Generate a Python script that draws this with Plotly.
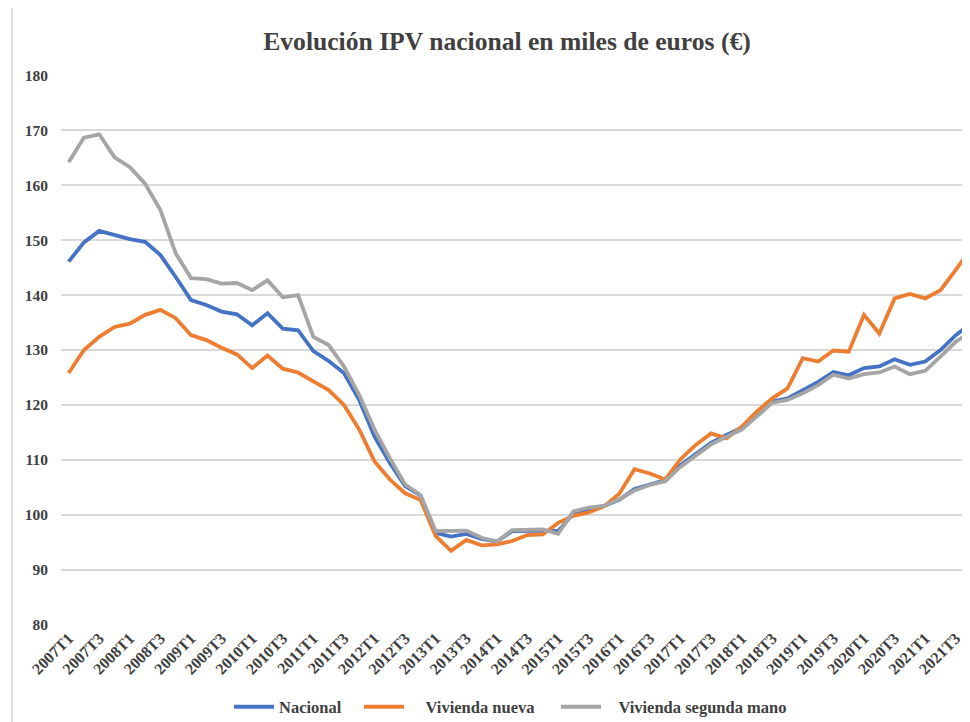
import plotly.graph_objects as go

years = list(range(2007, 2022))
quarters = [f"{y}T{q}" for y in years for q in range(1, 5)]

nacional = [146.1, 149.6, 151.7, 150.9, 150.2, 149.7, 147.3, 143.3, 139.1, 138.2,
            137.0, 136.5, 134.5, 136.7, 133.9, 133.6, 129.8, 128.0, 125.8, 120.9,
            114.2, 109.4, 105.2, 103.5, 96.7, 96.0, 96.5, 95.6, 95.1, 97.0,
            97.1, 97.1, 97.0, 100.2, 101.0, 101.6, 102.7, 104.7, 105.5, 106.3,
            109.0, 111.0, 113.1, 114.5, 115.8, 118.5, 120.6, 121.2, 122.7, 124.2,
            126.0, 125.4, 126.7, 127.0, 128.3, 127.3, 127.9, 130.0, 132.7, 134.8]

vivienda_nueva = [125.8, 130.0, 132.4, 134.2, 134.8, 136.4, 137.3, 135.8, 132.7, 131.8,
                  130.4, 129.2, 126.7, 129.0, 126.6, 125.9, 124.3, 122.7, 120.0, 115.5,
                  109.7, 106.4, 103.9, 102.7, 96.1, 93.4, 95.4, 94.4, 94.6, 95.2,
                  96.3, 96.4, 98.5, 99.8, 100.4, 101.5, 103.8, 108.3, 107.5, 106.4,
                  110.1, 112.7, 114.8, 113.9, 116.0, 118.8, 121.2, 123.0, 128.5, 127.9,
                  129.9, 129.7, 136.4, 133.0, 139.4, 140.2, 139.4, 140.9, 144.6, 148.5]

segunda_mano = [164.2, 168.7, 169.3, 165.1, 163.3, 160.3, 155.5, 147.6, 143.1, 142.9,
                142.1, 142.2, 140.9, 142.7, 139.6, 140.0, 132.4, 130.9, 127.0, 121.8,
                115.5, 110.3, 105.5, 103.6, 97.0, 97.0, 97.1, 95.8, 95.1, 97.2,
                97.3, 97.3, 96.5, 100.6, 101.3, 101.6, 102.8, 104.4, 105.4, 106.1,
                108.7, 110.7, 112.8, 114.2, 115.5, 117.9, 120.4, 120.9, 122.1, 123.6,
                125.5, 124.8, 125.6, 125.9, 127.0, 125.6, 126.2, 128.8, 131.5, 133.3]

y_ticks = [80, 90, 100, 110, 120, 130, 140, 150, 160, 170, 180]

idx = list(range(len(quarters)))
tick_idx = [i for i, q in enumerate(quarters) if q.endswith("T1") or q.endswith("T3")]
tick_txt = [quarters[i] for i in tick_idx]

FONT = "Liberation Serif"
# the page body adds an 8px offset, so the figure is sized to fit the window
W, H = 962, 714
OFF = 8
NB = "\u00a0"
series = [
    ("Nacional", nacional, "#4472C4", "legend", 237, ""),
    ("Vivienda nueva", vivienda_nueva, "#ED7D31", "legend2", 367, NB * 4),
    ("Vivienda segunda mano", segunda_mano, "#A5A5A5", "legend3", 564, NB * 3),
]

fig = go.Figure()
legends = {}
for name, vals, col, lg, lx, pad in series:
    fig.add_trace(go.Scatter(
        x=idx, y=vals, name=f"{pad}<b>{name}</b>", mode="lines",
        line=dict(color=col, width=3.8),
        legend=lg, showlegend=True,
        customdata=[quarters[i] for i in idx],
        hovertemplate="%{customdata}: %{y}<extra>" + name + "</extra>",
    ))
    legends[lg] = dict(
        visible=True,
        orientation="h", xref="container", yref="container",
        x=(lx - 8 - OFF) / W, xanchor="left", y=1 - (707 - OFF) / H, yanchor="middle",
        font=dict(family=FONT, size=16.5, color="#404040"),
        itemwidth=40, bgcolor="rgba(0,0,0,0)", borderwidth=0,
    )

fig.update_layout(
    width=W, height=H,
    showlegend=True,
    paper_bgcolor="white", plot_bgcolor="white",
    margin=dict(l=61 - OFF, r=0, t=75 - OFF, b=97, autoexpand=False),
    font=dict(family=FONT, color="#404040"),
    title=dict(text="<b>Evolución IPV nacional en miles de euros (€)</b>",
               x=(507 - OFF) / W, xanchor="center", y=1 - (41 - OFF) / H, yanchor="middle",
               font=dict(family=FONT, size=25.6, color="#404040")),
    xaxis=dict(range=[-0.5, 58.93], tickmode="array", tickvals=tick_idx,
               ticktext=[f"<b>{t}</b>" for t in tick_txt],
               tickangle=-45, showgrid=False, zeroline=False, showline=False,
               ticks="", automargin=False,
               tickfont=dict(family=FONT, size=16, color="#404040")),
    yaxis=dict(range=[79.9, 180.1], tickmode="array", tickvals=y_ticks,
               ticktext=[f"<b>{v}</b>" for v in y_ticks],
               showgrid=True, gridcolor="#D9D9D9", gridwidth=1.5,
               zeroline=False, showline=False, ticks="", ticklabelstandoff=12,
               automargin=False,
               tickfont=dict(family=FONT, size=15.5, color="#404040")),
    shapes=[dict(type="line", xref="paper", yref="paper",
                 x0=-49 / 909, x1=-49 / 909, y0=-97 / 550, y1=1 + 75 / 550,
                 line=dict(color="#D9D9D9", width=1.5))],
    **legends,
)

fig.write_html("out.html")
